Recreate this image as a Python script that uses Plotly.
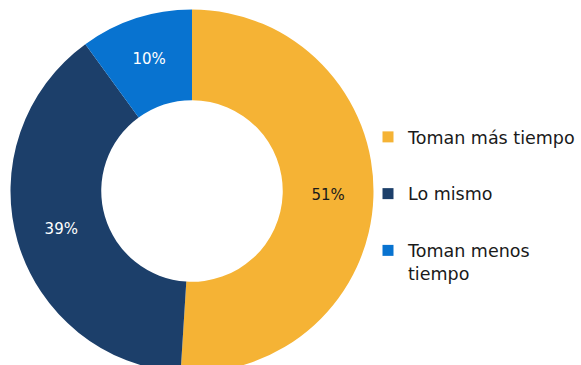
import plotly.graph_objects as go

# Survey answers and their shares (%)
labels = ["Toman más tiempo", "Lo mismo", "Toman menos tiempo"]
legend_names = ["Toman más tiempo", "Lo mismo", "Toman menos<br>tiempo"]
values = [51, 39, 10]
colors = ["#F5B335", "#1C3F6A", "#0873D0"]
text_colors = ["#1A1A1A", "#FFFFFF", "#FFFFFF"]

W, H = 581, 383
FONT = "DejaVu Sans, Verdana, sans-serif"

fig = go.Figure()

fig.add_trace(go.Pie(
    labels=labels,
    values=values,
    hole=0.5,
    sort=False,
    direction="clockwise",
    rotation=0,
    marker=dict(colors=colors, line=dict(width=0)),
    textinfo="percent",
    texttemplate="%{percent:.0%}",
    textposition="inside",
    insidetextorientation="horizontal",
    textfont=dict(family=FONT, size=15, color=text_colors),
    showlegend=False,
    domain=dict(x=[10.5 / W, 373.5 / W], y=[10.5 / H, 373.5 / H]),
))

# Legend entries as square markers, one group each for spacing
for i, (name, col) in enumerate(zip(legend_names, colors)):
    fig.add_trace(go.Scatter(
        x=[None], y=[None], mode="markers", name=name,
        legendgroup=f"g{i}",
        marker=dict(symbol="square", size=11, color=col),
    ))

fig.update_layout(
    width=W, height=H,
    margin=dict(l=0, r=0, t=0, b=0),
    paper_bgcolor="white", plot_bgcolor="white",
    xaxis=dict(visible=False), yaxis=dict(visible=False),
    legend=dict(
        x=368 / W, xanchor="left",
        y=(H - 119) / H, yanchor="top",
        font=dict(family=FONT, size=17.5, color="#1A1A1A"),
        tracegroupgap=31,
        valign="top",
        bgcolor="rgba(0,0,0,0)",
    ),
)

fig.write_html("out.html", post_script="document.body.style.overflow='hidden';document.body.style.margin='0';")
